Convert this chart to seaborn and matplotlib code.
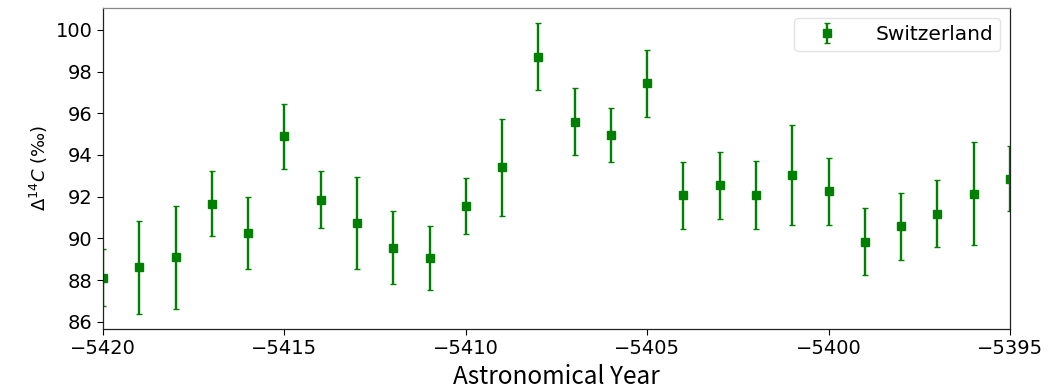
import numpy as np
import matplotlib
matplotlib.use('Agg')
import matplotlib.pyplot as plt
import seaborn as sns

years = [-5420, -5419, -5418, -5417, -5416, -5415, -5414, -5413, -5412,
         -5411, -5410, -5409, -5408, -5407, -5406, -5405, -5404, -5403,
         -5402, -5401, -5400, -5399, -5398, -5397, -5396, -5395]
d14c = [88.12, 88.61, 89.08, 91.66, 90.24, 94.90, 91.85, 90.75, 89.55,
        89.04, 91.55, 93.41, 98.72, 95.60, 94.96, 97.43, 92.06, 92.54,
        92.09, 93.03, 92.25, 89.84, 90.57, 91.18, 92.15, 92.86]
d14c_err = [1.38, 2.24, 2.45, 1.55, 1.73, 1.55, 1.37, 2.20, 1.75,
            1.53, 1.34, 2.33, 1.61, 1.60, 1.29, 1.62, 1.61, 1.60,
            1.62, 2.41, 1.60, 1.62, 1.62, 1.60, 2.47, 1.56]
series_label = 'Switzerland'

sns.set_theme(style='ticks')
plt.rcParams['font.family'] = ['DejaVu Sans']
plt.rcParams['mathtext.fontset'] = 'dejavusans'
plt.rcParams['text.color'] = 'black'
plt.rcParams['axes.labelcolor'] = 'black'
plt.rcParams['xtick.color'] = 'black'
plt.rcParams['ytick.color'] = 'black'

fig = plt.figure(figsize=(10.51, 3.91), dpi=100)
ax = fig.add_axes([0.098, 0.1586, 0.863, 0.8209])

ax.errorbar(years, d14c, yerr=d14c_err, fmt='s', color='green',
            markersize=6, elinewidth=1.7, capsize=2.5, capthick=1,
            label=series_label)

ax.set_xlim(-5420, -5395)
ax.set_ylim(85.65, 101.05)
ax.set_xticks(np.arange(-5420, -5394, 5))
ax.set_yticks(np.arange(86, 101, 2))
ax.tick_params(labelsize=14, length=4, width=0.8)

ax.set_ylabel(r'$\Delta^{14}C$ (‰)', fontsize=13)
ax.set_xlabel('Astronomical Year', fontsize=17.5,
              family=['Noto Sans CJK JP', 'DejaVu Sans'], labelpad=4)

for s in ax.spines.values():
    s.set_linewidth(0.9)
    s.set_color('#222222')
ax.spines['top'].set_color('#888888')

ax.legend(loc='upper right', fontsize=14.5, handlelength=2.6,
          handletextpad=1.1, borderpad=0.35, framealpha=0.8,
          edgecolor='#dddddd')

fig.savefig('out.png', dpi=100)
